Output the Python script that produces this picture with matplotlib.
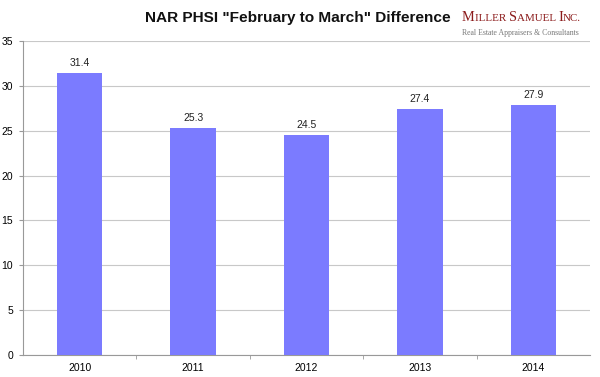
import matplotlib
matplotlib.use("Agg")
import matplotlib.pyplot as plt

years = ["2010", "2011", "2012", "2013", "2014"]
values = [31.4, 25.3, 24.5, 27.4, 27.9]
yticks = [0, 5, 10, 15, 20, 25, 30, 35]

plt.rcParams['font.family'] = ['Liberation Sans', 'DejaVu Sans']

fig = plt.figure(figsize=(6, 3.77), dpi=100)
ax = fig.add_axes([0.0383, 0.0584, 0.945, 0.8326])

x = list(range(len(years)))
ax.bar(x, values, width=0.4, color="#7b7bff", zorder=3)
for xi, v in zip(x, values):
    ax.text(xi, v + 0.55, f"{v}", ha="center", va="bottom", fontsize=7.5, color="#222222")

ax.set_xlim(-0.5, len(years) - 0.5)
ax.set_ylim(0, 35)
ax.set_yticks(yticks)
ax.set_yticklabels([str(t) for t in yticks], fontsize=7.5)
ax.set_xticks(x)
ax.set_xticklabels(years, fontsize=7.5)
ax.set_xticks([i + 0.5 for i in range(len(years) - 1)], minor=True)
ax.tick_params(axis="x", which="major", length=0, pad=6)
ax.tick_params(axis="x", which="minor", length=3, color="#999999")
ax.tick_params(axis="y", length=3, color="#999999", pad=4)
ax.grid(axis="y", color="#c8c8c8", linewidth=0.8, zorder=0)
for s in ["top", "right"]:
    ax.spines[s].set_visible(False)
for s in ["left", "bottom"]:
    ax.spines[s].set_color("#999999")
    ax.spines[s].set_linewidth(0.8)

fig.text(0.496, 0.952, 'NAR PHSI "February to March" Difference', ha="center", va="center",
         fontsize=11.1, fontweight="bold", color="#111111")

# Logo in small caps, built from pieces
fig.canvas.draw()
renderer = fig.canvas.get_renderer()
pieces = [("M", 10.4), ("ILLER ", 7.9), ("S", 10.4), ("AMUEL ", 7.9), ("I", 10.4), ("NC.", 7.9)]
xpos = 462 / 600
for txt, size in pieces:
    t = fig.text(xpos, 0.945, txt, ha="left", va="baseline", fontsize=size,
                 family=["Liberation Serif"], color="#8b1a1a")
    bb = t.get_window_extent(renderer)
    xpos += bb.width / 600
fig.text(462 / 600, 0.912, "Real Estate Appraisers & Consultants", ha="left", va="center",
         fontsize=5.6, family=["Liberation Serif"], color="#777777")

fig.savefig("out.png", dpi=100)
